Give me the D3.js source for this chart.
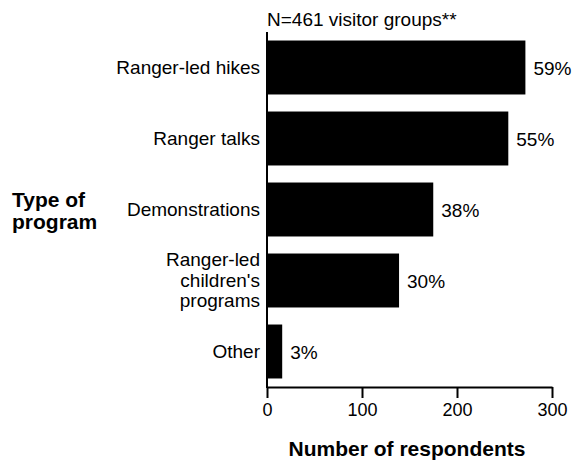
<!DOCTYPE html>
<html><head><meta charset="utf-8">
<script src="https://cdn.jsdelivr.net/npm/d3@7"></script>
<style>body{margin:0;background:#fff}svg{display:block}text{font-family:"Liberation Sans",Arial,sans-serif}</style>
</head><body>
<svg id="c" width="572" height="460"></svg>
<script>
const categories = [["Ranger-led hikes"], ["Ranger talks"], ["Demonstrations"], ["Ranger-led", "children's", "programs"], ["Other"]];
const counts = [272, 254, 175, 139, 16];
const percents = ["59%", "55%", "38%", "30%", "3%"];
const xTicks = [0, 100, 200, 300];

const svg = d3.select("#c");
const x = d3.scaleLinear().domain([0, 300]).range([267, 552]);
const y = d3.scaleBand().domain(d3.range(categories.length)).range([32, 387]).paddingInner(0.24).paddingOuter(0.12);

svg.selectAll("rect.bar").data(counts).join("rect")
  .attr("x", x(0)).attr("y", (d, i) => y(i))
  .attr("width", d => x(d) - x(0)).attr("height", y.bandwidth()).attr("fill", "#000");

const xa = svg.append("g").attr("transform", "translate(0,387)")
  .call(d3.axisBottom(x).tickValues(xTicks).tickSize(11).tickPadding(5).tickSizeOuter(0));
xa.select(".domain").attr("stroke-width", 2);
xa.selectAll(".tick line").attr("stroke-width", 2);
xa.selectAll("text").attr("font-size", 18).attr("fill", "#000").style("font-family", "Liberation Sans, Arial, sans-serif");

svg.append("line").attr("x1", 267).attr("x2", 267).attr("y1", 32).attr("y2", 388).attr("stroke", "#000").attr("stroke-width", 2);

const lg = svg.append("g");
categories.forEach((lines, i) => {
  const cy = y(i) + y.bandwidth() / 2;
  const lh = 20.5;
  const t = lg.append("text").attr("text-anchor", "end").attr("font-size", 19).attr("fill", "#000");
  lines.forEach((ln, j) => {
    t.append("tspan").attr("x", 260).attr("y", cy + 6 + (j - (lines.length - 1) / 2) * lh).text(ln);
  });
});

svg.selectAll("text.pct").data(counts).join("text")
  .attr("x", d => x(d) + 8).attr("y", (d, i) => y(i) + y.bandwidth() / 2 + 7)
  .attr("font-size", 19).attr("fill", "#000").text((d, i) => percents[i]);

svg.append("text").attr("x", 267).attr("y", 26).attr("font-size", 19).text("N=461 visitor groups**");

const tt = svg.append("text").attr("font-size", 21).attr("font-weight", "bold");
tt.append("tspan").attr("x", 12).attr("y", 207).text("Type of");
tt.append("tspan").attr("x", 12).attr("y", 229).text("program");

svg.append("text").attr("x", 407).attr("y", 456).attr("text-anchor", "middle").attr("font-size", 21).attr("font-weight", "bold").text("Number of respondents");
</script>
</body></html>
